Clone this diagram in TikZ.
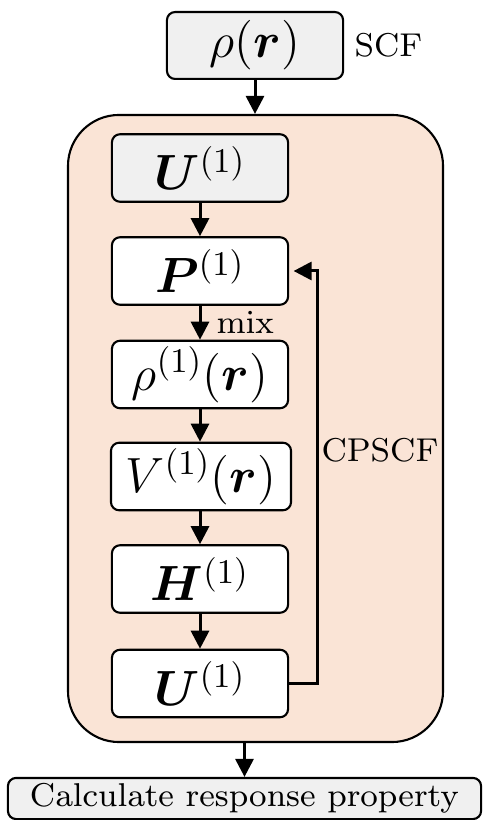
\RequirePackage{fix-cm}
\documentclass[tikz,border=0pt]{standalone}
\usepackage{amsmath,bm}
\usetikzlibrary{arrows.meta}
\definecolor{peach}{HTML}{FAE4D6}
\definecolor{boxgray}{HTML}{F0F0F0}
\font\lblfont=cmr8 at 11pt
\begin{document}
\begin{tikzpicture}[x=0.3333pt,y=-0.3333pt,
  box/.style={draw, rounded corners=2.7pt, line width=0.7pt, fill=white,
    minimum width=58.7pt, minimum height=22.5pt, inner sep=0pt,
    font=\fontsize{16.5}{19}\selectfont},
  arr/.style={line width=1pt, -{Triangle[width=6pt,length=6pt]}},
  lbl/.style={font=\lblfont, inner sep=0pt}]
\useasboundingbox (0,0) rectangle (483,820);
\node[draw, fill=peach, line width=0.7pt, rounded corners=17pt,
  minimum width=125pt, minimum height=209pt] (outer) at (255.5,428.5) {};
\node[box, fill=boxgray, minimum height=22.3pt] (top) at (255,45.5) {$\rho(\boldsymbol{r})$};
\node[lbl, anchor=west] (scf) at (354,45) {SCF};
\node[box, fill=boxgray] (u1) at (200,168) {$\boldsymbol{U}^{(1)}$};
\node[box] (p) at (200,271) {$\boldsymbol{P}^{(1)}$};
\node[box] (rho) at (200,374.5) {$\rho^{(1)}(\boldsymbol{r})$};
\node[box, minimum width=60pt] (v) at (201,476.5) {$V^{(1)}(\boldsymbol{r})$};
\node[box] (h) at (200,579) {$\boldsymbol{H}^{(1)}$};
\node[box] (u2) at (200,683.5) {$\boldsymbol{U}^{(1)}$};
\node[draw, fill=boxgray, line width=0.7pt, rounded corners=2.7pt,
  minimum width=157.7pt, minimum height=13.7pt, inner sep=0pt,
  font=\lblfont] (bot) at (244.5,798.5) {Calculate response property};
\draw[arr] (top.south) -- (top.south |- outer.north);
\draw[arr] (u1) -- (p);
\draw[arr] (p) -- node[lbl, anchor=west, xshift=5pt] (mix) {mix} (rho);
\draw[arr] (rho) -- (v.north -| rho.south);
\draw[arr] (v.south -| h.north) -- (h);
\draw[arr] (h) -- (u2);
\coordinate (fb) at (317,0);
\draw[arr, shorten >=1.5pt] (u2.east) -- (u2.east -| fb) -- (p.east -| fb) -- (p.east);
\node[lbl, anchor=west] (cp) at (321,450) {CPSCF};
\draw[arr] (bot.north |- outer.south) -- (bot.north);
\end{tikzpicture}
\end{document}
